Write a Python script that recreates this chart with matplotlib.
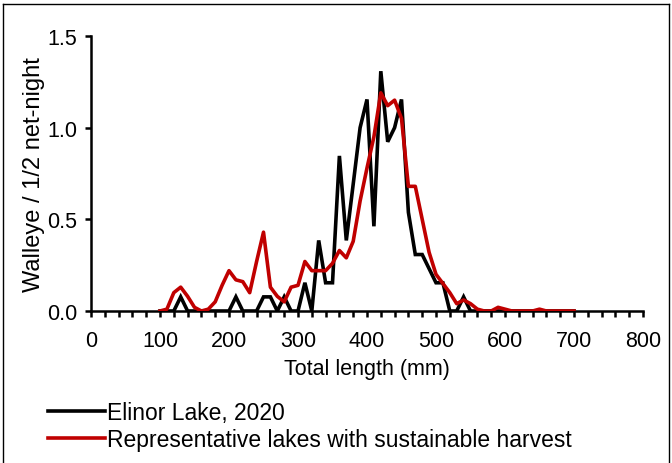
import matplotlib
matplotlib.use("Agg")
import matplotlib.pyplot as plt
from matplotlib.lines import Line2D
import numpy as np

plt.rcParams['font.family'] = ['Liberation Sans', 'DejaVu Sans']

# Elinor Lake, 2020 (10-mm length bins)
elinor_len = [100, 110, 120, 130, 140, 150, 160, 170, 180, 190, 200, 210, 220, 230, 240,
              250, 260, 270, 280, 290, 300, 310, 320, 330, 340, 350, 360, 370, 380, 390,
              400, 410, 420, 430, 440, 450, 460, 470, 480, 490, 500, 510, 520, 530, 540,
              550, 560, 570, 580, 590, 600, 610, 620, 630, 640, 650, 660, 670, 680, 690, 700]
elinor_cpue = [0.0, 0.0, 0.0, 0.077, 0.0, 0.0, 0.0, 0.0, 0.0, 0.0, 0.0, 0.077, 0.0, 0.0, 0.0,
               0.077, 0.077, 0.0, 0.077, 0.0, 0.0, 0.154, 0.0, 0.385, 0.154, 0.154, 0.846, 0.385, 0.692, 1.0,
               1.154, 0.462, 1.308, 0.923, 1.0, 1.154, 0.538, 0.308, 0.308, 0.231, 0.154, 0.154, 0.0, 0.0, 0.077,
               0.0, 0.0, 0.0, 0.0, 0.0, 0.0, 0.0, 0.0, 0.0, 0.0, 0.0, 0.0, 0.0, 0.0, 0.0, 0.0]

# Representative lakes with sustainable harvest
rep_len = elinor_len
rep_cpue = [0.0, 0.01, 0.10, 0.13, 0.08, 0.02, 0.0, 0.01, 0.05, 0.14, 0.22, 0.17, 0.16, 0.10, 0.27,
            0.43, 0.13, 0.08, 0.05, 0.13, 0.14, 0.27, 0.22, 0.22, 0.22, 0.26, 0.33, 0.29, 0.38, 0.60,
            0.78, 0.95, 1.19, 1.12, 1.15, 1.05, 0.68, 0.68, 0.50, 0.32, 0.20, 0.15, 0.10, 0.04, 0.06,
            0.04, 0.01, 0.0, 0.0, 0.02, 0.01, 0.0, 0.0, 0.0, 0.0, 0.01, 0.0, 0.0, 0.0, 0.0, 0.0]

x_ticks = [0, 100, 200, 300, 400, 500, 600, 700, 800]
y_ticks = [0.0, 0.5, 1.0, 1.5]

W, H = 672, 464
fig = plt.figure(figsize=(W / 100, H / 100), dpi=100)
ax = fig.add_axes([91 / W, (H - 312) / H, 552 / W, 275 / H])

black_line, = ax.plot(elinor_len, elinor_cpue, color='black', lw=2.6, solid_joinstyle='miter',
                      label='Elinor Lake, 2020', zorder=3)
red_line, = ax.plot(rep_len, rep_cpue, color='#C00000', lw=2.6, solid_joinstyle='round',
                    label='Representative lakes with sustainable harvest', zorder=4)

ax.set_xlim(0, 800)
ax.set_ylim(0, 1.5)
ax.set_xticks(x_ticks)
ax.set_xticks(np.arange(0, 801, 20), minor=True)
ax.set_yticks(y_ticks)
ax.set_yticklabels([f"{v:.1f}" for v in y_ticks])
for s in ['top', 'right']:
    ax.spines[s].set_visible(False)
for s in ['left', 'bottom']:
    ax.spines[s].set_linewidth(1.8)
ax.tick_params(axis='both', which='major', direction='out', length=4, width=1.8,
               labelsize=15.5, colors='black')
ax.tick_params(axis='x', which='minor', direction='out', length=4, width=1.8)
ax.tick_params(axis='x', which='major', pad=10)
ax.tick_params(axis='y', which='major', pad=6)
ax.set_xlabel('Total length (mm)', fontsize=15.5, labelpad=5)
ax.set_ylabel('Walleye / 1/2 net-night', fontsize=17, labelpad=1)
ax.patch.set_visible(False)

# legend below the chart
fig.legend(handles=[black_line, red_line], loc='upper left',
           bbox_to_anchor=(39 / W, (H - 393) / H), frameon=False, fontsize=16.5,
           handlelength=2.5, handletextpad=0.05, labelspacing=0.15, borderaxespad=0)

# outer frame of the picture
fig.add_artist(Line2D([2.5 / W, 2.5 / W], [0, 1 - 4.5 / H], color='black', lw=1, transform=fig.transFigure))
fig.add_artist(Line2D([2.5 / W, 668.5 / W], [1 - 4.5 / H, 1 - 4.5 / H], color='black', lw=1, transform=fig.transFigure))
fig.add_artist(Line2D([668.5 / W, 668.5 / W], [0, 1 - 4.5 / H], color='black', lw=1, transform=fig.transFigure))

fig.savefig('out.png', dpi=100)
